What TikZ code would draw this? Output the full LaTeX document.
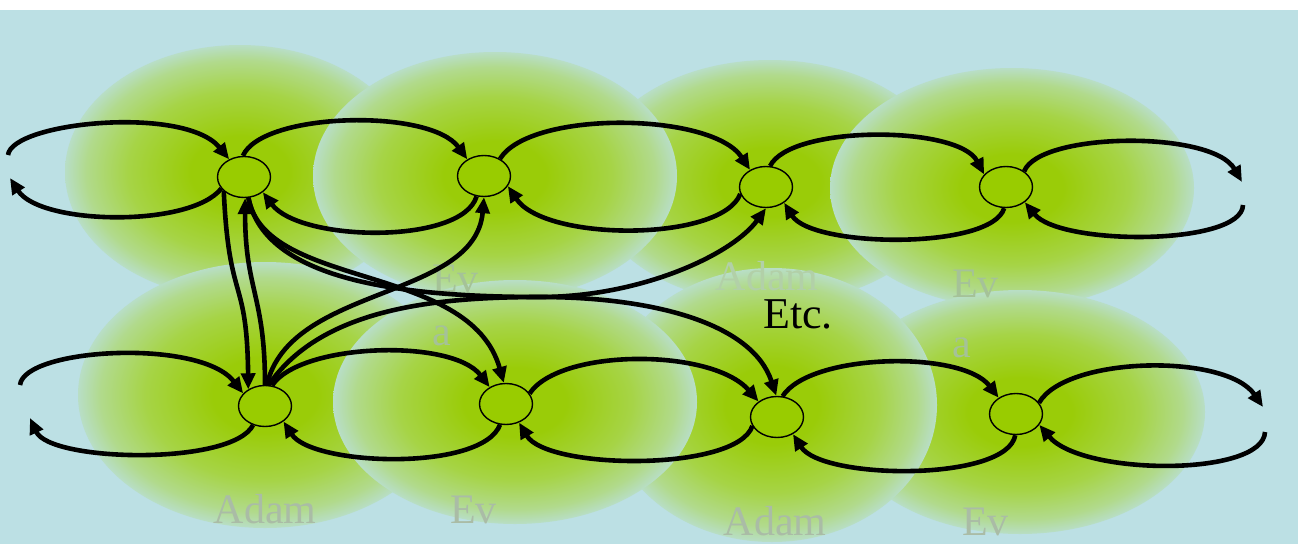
\documentclass[tikz,border=0pt]{standalone}
\usepackage{fontspec}
\setmainfont{Liberation Serif}
\usetikzlibrary{arrows.meta,shapes.geometric}
\definecolor{bgblue}{RGB}{188,224,228}
\definecolor{gA}{RGB}{154,204,8}
\definecolor{gB}{RGB}{166,212,70}
\definecolor{gC}{RGB}{177,218,140}
\definecolor{gD}{RGB}{184,222,198}
\definecolor{nodegreen}{RGB}{153,204,0}
\definecolor{labB}{RGB}{170,188,166}
\definecolor{labT}{RGB}{165,194,152}
\definecolor{labF}{RGB}{178,208,168}
\pgfdeclareradialshading{blobshade}{\pgfpoint{0bp}{0bp}}{color(0bp)=(gA); color(7bp)=(gA); color(16bp)=(gB); color(22bp)=(gC); color(25bp)=(gD); color(50bp)=(gD)}
\begin{document}
\begin{tikzpicture}[x=1pt,y=-1pt,
  bigblob/.style={shading=blobshade},
  dot/.style={ellipse, draw=black, line width=1.4pt, fill=nodegreen, minimum width=53pt, minimum height=41pt, inner sep=0pt},
  link/.style={line width=4.6pt, -{Triangle[length=16pt,width=14pt]}},
  lab/.style={font=\fontsize{42}{50}\selectfont, inner sep=0pt},
]
\useasboundingbox (0,0) rectangle (1298,544);
\fill[white] (0,0) rectangle (1298,10);
\fill[bgblue] (0,10) rectangle (1298,544);
% big ellipses, top row
\shade[bigblob] (240,172) ellipse [x radius=175pt, y radius=127pt];
\shade[bigblob] (770,182) ellipse [x radius=180pt, y radius=122pt];
\shade[bigblob] (495,176) ellipse [x radius=182pt, y radius=124pt];
\shade[bigblob] (1012,188) ellipse [x radius=182pt, y radius=120pt];
% bottom row
\shade[bigblob] (265,395) ellipse [x radius=187pt, y radius=133pt];
\shade[bigblob] (1020,412) ellipse [x radius=185pt, y radius=122pt];
\shade[bigblob] (772,405) ellipse [x radius=165pt, y radius=137pt];
\shade[bigblob] (515,402) ellipse [x radius=182pt, y radius=122pt];
% labels
\node[lab, text=labT, anchor=base west] (t2a) at (432,292) {Ev};
\node[lab, text=labT, anchor=base west] (t2b) at (432,345) {a};
\node[lab, text=labF, anchor=base] (t3) at (767,290) {Adam};
\node[lab, text=labT, anchor=base west] (t4a) at (952,297) {Ev};
\node[lab, text=labT, anchor=base west] (t4b) at (952,357) {a};
\node[lab, text=labB, anchor=base] (t5) at (265,523) {Adam};
\node[lab, text=labB, anchor=base west] (t6) at (450,523) {Ev};
\node[lab, text=labB, anchor=base] (t7) at (775,535) {Adam};
\node[lab, text=labB, anchor=base west] (t8) at (962,535) {Ev};
% small nodes
\node[dot] (n1) at (244,177) {};
\node[dot] (n2) at (484,176) {};
\node[dot] (n3) at (766,187) {};
\node[dot] (n4) at (1006,187) {};
\node[dot] (n5) at (265,406) {};
\node[dot] (n6) at (506,404) {};
\node[dot] (n7) at (777,417) {};
\node[dot] (n8) at (1016,414) {};
% free ends
\coordinate (L1a) at (8,155);
\coordinate (L1b) at (10,178);
\coordinate (R4a) at (1242,182);
\coordinate (R4b) at (1243,205);
\coordinate (L5a) at (20,385);
\coordinate (L5b) at (30,418);
\coordinate (R8a) at (1263,407);
\coordinate (R8b) at (1265,432);
\coordinate (mid) at (540,297);
% top row arcs
\draw[link] (L1a) .. controls (12,122) and (185,105) .. (n1.130);
\draw[link] (n1.207) .. controls (190,228) and (40,225) .. (L1b);
\draw[link] (n1.93) .. controls (262,112) and (430,108) .. (n2.135);
\draw[link] (n2.250) .. controls (462,245) and (300,242) .. (n1.321);
\draw[link] (n2.47) .. controls (530,110) and (712,112) .. (n3.133);
\draw[link] (n3.195) .. controls (722,242) and (545,242) .. (n2.337);
\draw[link] (n3.79) .. controls (790,125) and (958,125) .. (n4.150);
\draw[link] (n4.265) .. controls (992,250) and (812,248) .. (n3.319);
\draw[link] (n4.41) .. controls (1040,132) and (1212,130) .. (R4a);
\draw[link] (R4b) .. controls (1242,246) and (1060,246) .. (n4.321);
% bottom row arcs
\draw[link] (L5a) .. controls (24,348) and (200,338) .. (n5.150);
\draw[link] (n5.238) .. controls (232,466) and (50,462) .. (L5b);
\draw[link] (n5.71) .. controls (300,343) and (452,338) .. (n6.134);
\draw[link] (n6.254) .. controls (482,472) and (312,466) .. (n5.320);
\draw[link] (n6.24) .. controls (560,348) and (712,348) .. (n7.140);
\draw[link] (n7.200) .. controls (737,472) and (547,470) .. (n6.305);
\draw[link] (n7.75) .. controls (810,353) and (962,350) .. (n8.137);
\draw[link] (n8.268) .. controls (1007,482) and (822,480) .. (n7.313);
\draw[link] (n8.26) .. controls (1066,356) and (1226,353) .. (R8a);
\draw[link] (R8b) .. controls (1263,477) and (1082,476) .. (n8.335);
% cross links
\draw[link] (n1.215) .. controls (229,305) and (247,275) .. (n5.135);
\draw[link] (n5.90) .. controls (265,295) and (245,290) .. (n1.273);
\draw[link] (n1.282) .. controls (265,290) and (470,262) .. (n6.96);
\draw[link] (n1.282) .. controls (265,280) and (400,297) .. (mid) .. controls (650,297) and (752,322) .. (n7.92);
\draw[link] (n5.85) .. controls (290,285) and (475,300) .. (n2.270);
\draw[link] (n5.80) .. controls (320,310) and (430,297) .. (mid) .. controls (640,297) and (732,255) .. (n3.270);
% text
\node[font=\fontsize{44}{50}\selectfont, anchor=base, inner sep=0pt] (etc) at (798,328) {Etc.};
\end{tikzpicture}
\end{document}
